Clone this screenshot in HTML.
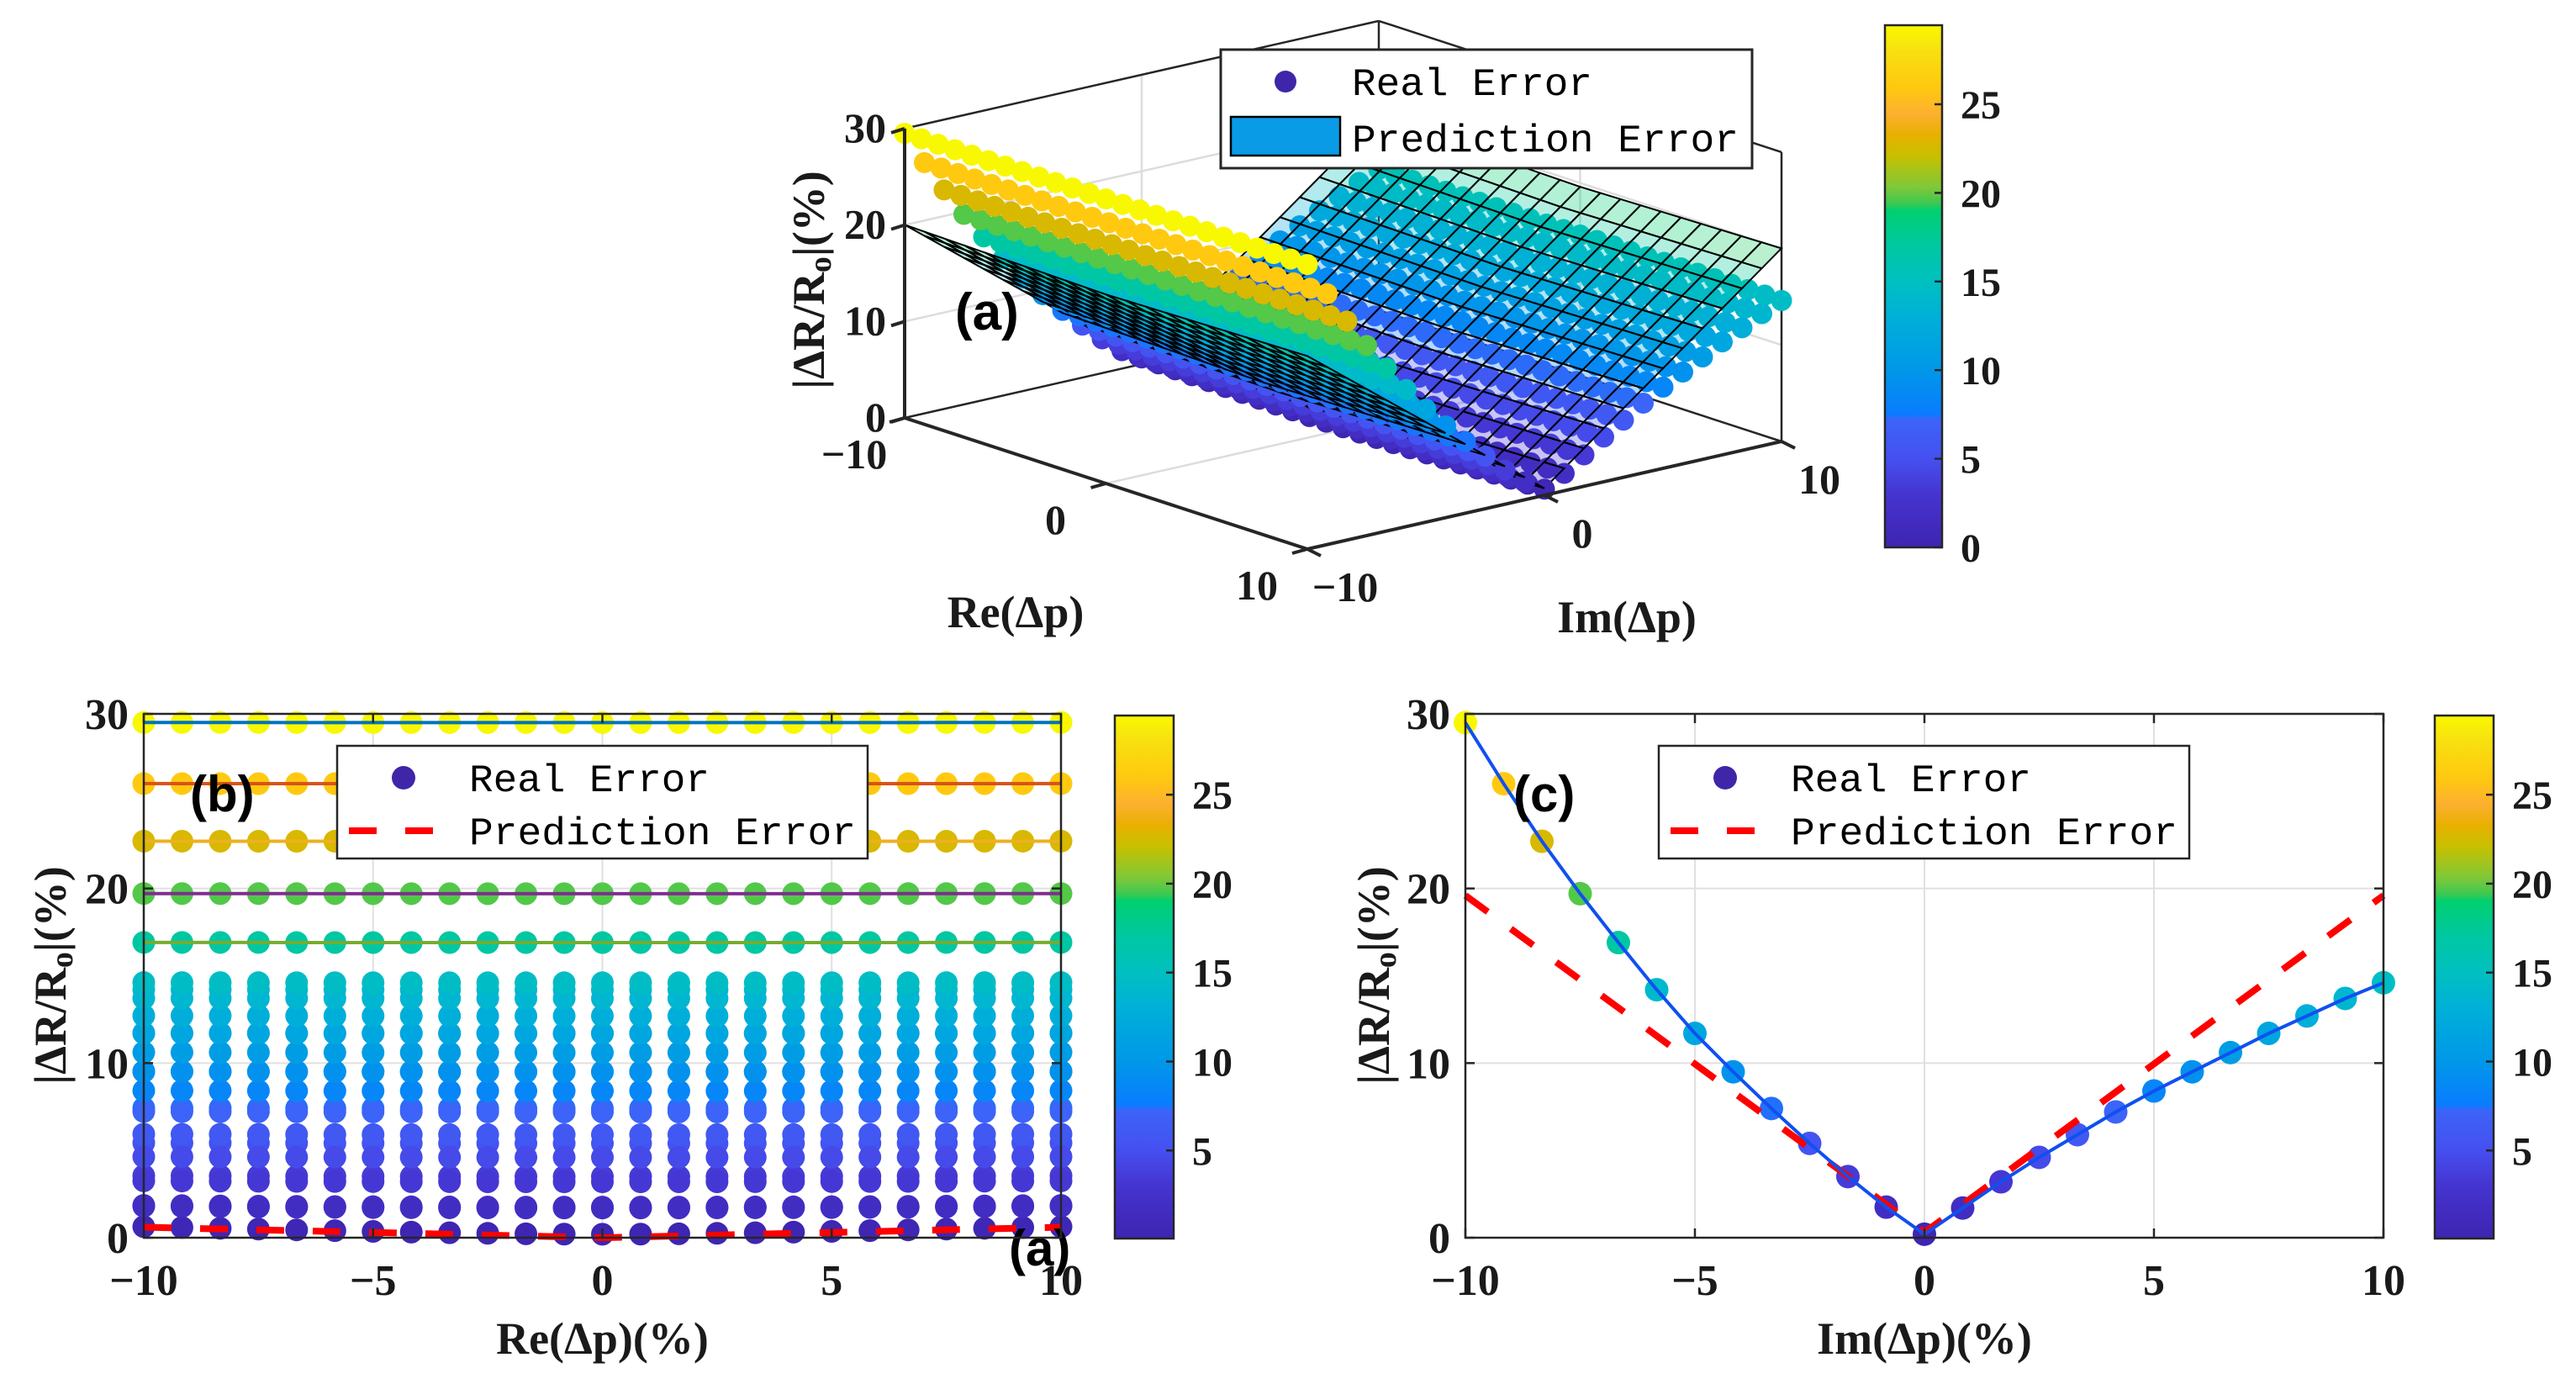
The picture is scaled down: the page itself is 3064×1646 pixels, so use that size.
<!DOCTYPE html>
<html><head><meta charset="utf-8">
<style>
html,body{margin:0;padding:0;background:#fff;}
svg{display:block;}
text{font-family:"Liberation Serif",serif;font-weight:bold;fill:#1a1a1a;}
.mono{font-family:"Liberation Mono",monospace;font-weight:normal;fill:#000;}
.arial{font-family:"Liberation Sans",sans-serif;font-weight:bold;fill:#000;}
</style></head>
<body>
<svg id="fig" width="3064" height="1646" viewBox="0 0 3064 1646" xmlns="http://www.w3.org/2000/svg">
<defs>
<linearGradient id="cbgrad" x1="0" y1="1" x2="0" y2="0">
<stop offset="0" stop-color="#3e24b0"/>
<stop offset="0.1" stop-color="#4534d0"/>
<stop offset="0.17" stop-color="#4550f0"/>
<stop offset="0.245" stop-color="#3c64f8"/>
<stop offset="0.255" stop-color="#0a7cff"/>
<stop offset="0.34" stop-color="#0098e8"/>
<stop offset="0.44" stop-color="#00b0d8"/>
<stop offset="0.51" stop-color="#00c0c0"/>
<stop offset="0.58" stop-color="#00c8a0"/>
<stop offset="0.645" stop-color="#00d070"/>
<stop offset="0.66" stop-color="#40c850"/>
<stop offset="0.69" stop-color="#80c838"/>
<stop offset="0.75" stop-color="#c8c000"/>
<stop offset="0.79" stop-color="#e8b000"/>
<stop offset="0.83" stop-color="#fcb030"/>
<stop offset="0.88" stop-color="#ffc810"/>
<stop offset="0.95" stop-color="#f8e010"/>
<stop offset="1" stop-color="#f8f800"/>
</linearGradient>
</defs>
<g id="pa"></g>
<g id="pb"></g>
<g id="pc"></g>
</svg>
<script>
// ---------- data ----------
const gridVals = [-10,-9.167,-8.333,-7.5,-6.667,-5.833,-5,-4.167,-3.333,-2.5,-1.667,-0.833,0,0.833,1.667,2.5,3.333,4.167,5,5.833,6.667,7.5,8.333,9.167,10];
const realByIm = [29.5,26.0,22.7,19.7,16.9,14.2,11.7,9.5,7.4,5.4,3.5,1.75,0.2,1.7,3.2,4.6,5.9,7.2,8.4,9.5,10.6,11.7,12.7,13.7,14.6];
const realReOffset = [0.6,0.55,0.5,0.45,0.4,0.35,0.3,0.25,0.2,0.15,0.1,0.05,0,0.05,0.1,0.15,0.2,0.25,0.3,0.35,0.4,0.45,0.5,0.55,0.6];
const predImSlope = [1.93,1.93];
const predOffset = [0.3];
const predReSlope = [0.06];
const xTicks = [-10,-5,0,5,10];
const yTicks = [0,10,20,30];
const cbTicks = [5,10,15,20,25];
const cbTicksA = [0,5,10,15,20,25];
const lineColors = ['#0072bd','#d95319','#edb120','#7e2f8e','#77ac30','#4dbeee','#a2142f'];

const NS='http://www.w3.org/2000/svg';
function mk(parent,tag,attrs,txt){const e=document.createElementNS(NS,tag);for(const k in attrs)e.setAttribute(k,attrs[k]);if(txt!==undefined)e.textContent=txt;parent.appendChild(e);return e;}

const cmStops=[[0,[62,36,176]],[0.1,[69,52,208]],[0.17,[69,80,240]],[0.245,[60,100,248]],[0.255,[10,124,255]],[0.34,[0,152,232]],[0.44,[0,176,216]],[0.51,[0,192,192]],[0.58,[0,200,160]],[0.645,[0,208,112]],[0.66,[64,200,80]],[0.69,[128,200,56]],[0.75,[200,192,0]],[0.79,[232,176,0]],[0.83,[252,176,48]],[0.88,[255,200,16]],[0.95,[248,224,16]],[1,[248,248,0]]];
function cmap(v,lo,hi){let t=(v-lo)/(hi-lo);t=Math.max(0,Math.min(1,t));for(let i=1;i<cmStops.length;i++){if(t<=cmStops[i][0]){const a=cmStops[i-1],b=cmStops[i];const f=(t-a[0])/(b[0]-a[0]||1);const c=a[1].map((x,j)=>Math.round(x+(b[1][j]-x)*f));return `rgb(${c[0]},${c[1]},${c[2]})`;}}return 'rgb(248,248,0)';}
function realZ(i,j){const a=realByIm[j],b=realReOffset[i];return Math.sqrt(a*a+b*b);}
function predZ(re,im){return (im<0?predImSlope[0]:predImSlope[1])*Math.abs(im)+predOffset[0]+predReSlope[0]*Math.abs(re)*0.7;}

function panel2D(g,opt){
  const L=opt.L,R=opt.R,T=849,B=1472;
  const xs=v=>L+(v+10)/20*(R-L), ys=v=>B-v/30*(B-T);
  xTicks.slice(1,4).forEach(t=>{const e=mk(g,'line',{x1:xs(t),x2:xs(t),y1:T,y2:B,stroke:'#e0e0e0','stroke-width':2});});
  yTicks.slice(1,3).forEach(t=>{const e=mk(g,'line',{x1:L,x2:R,y1:ys(t),y2:ys(t),stroke:'#e0e0e0','stroke-width':2});});
  opt.draw(g,xs,ys);
  const bx=mk(g,'rect',{x:L,y:T,width:R-L,height:B-T,fill:'none',stroke:'#262626','stroke-width':2.5});
  
  xTicks.forEach(t=>{
    mk(g,'line',{x1:xs(t),x2:xs(t),y1:B,y2:B-11,stroke:'#262626','stroke-width':2.5});
    mk(g,'line',{x1:xs(t),x2:xs(t),y1:T,y2:T+11,stroke:'#262626','stroke-width':2.5});
    const lb=mk(g,'text',{x:xs(t),y:1540,'font-size':52,'text-anchor':'middle'},(t<0?'\u2212':'')+Math.abs(t));
    
  });
  yTicks.forEach(t=>{
    mk(g,'line',{x1:L,x2:L+11,y1:ys(t),y2:ys(t),stroke:'#262626','stroke-width':2.5});
    mk(g,'line',{x1:R,x2:R-11,y1:ys(t),y2:ys(t),stroke:'#262626','stroke-width':2.5});
    const lb=mk(g,'text',{x:L-18,y:ys(t)+18,'font-size':52,'text-anchor':'end'},String(t));
    
  });
  const xl=mk(g,'text',{x:(L+R)/2,y:1610,'font-size':54,'text-anchor':'middle'},opt.xlabel);
  
  const yl=mk(g,'text',{x:0,y:0,'font-size':54,'text-anchor':'middle',transform:`translate(${opt.ylx},1160) rotate(-90)`});
  
  yl.innerHTML='|\u0394R/R<tspan font-size="38" dy="8">o</tspan><tspan dy="-8">|(%)</tspan>';
  const cx=opt.cbx,cw=70,cT=851,cB=1473,lo=0.05,hi=29.45;
  const cb=mk(g,'rect',{x:cx,y:cT,width:cw,height:cB-cT,fill:'url(#cbgrad)',stroke:'#262626','stroke-width':2.5});
  
  cbTicks.forEach(t=>{const y=cB-(t-lo)/(hi-lo)*(cB-cT);
    mk(g,'line',{x1:cx+cw,x2:cx+cw-9,y1:y,y2:y,stroke:'#262626','stroke-width':2.5});
    const lb=mk(g,'text',{x:cx+cw+22,y:y+17,'font-size':48},String(t));
    });
  const lx=opt.legX;
  const lg=mk(g,'g',{});
  mk(lg,'rect',{x:lx,y:887,width:631,height:134,fill:'#fff',stroke:'#262626','stroke-width':2.5});
  const d=mk(lg,'circle',{cx:lx+79,cy:925,r:14,fill:'#3f26a8'});
  const t1=mk(lg,'text',{x:lx+157,y:941,'font-size':46,class:'mono',textLength:286,lengthAdjust:'spacingAndGlyphs'},'Real Error');
  
  const ds=mk(lg,'line',{x1:lx+14,x2:lx+114,y1:988,y2:988,stroke:'#ff0000','stroke-width':8,'stroke-dasharray':'33 34'});
  
  const t2=mk(lg,'text',{x:lx+157,y:1004,'font-size':46,class:'mono',textLength:460,lengthAdjust:'spacingAndGlyphs'},'Prediction Error');
  
}

panel2D(document.getElementById('pb'),{L:171,R:1262,cbx:1326,legX:401,xlabel:'Re(\u0394p)(%)',ylx:78,
 draw:(g,xs,ys)=>{
  const rowLine=j=>{const pts=gridVals.map((re,i)=>xs(re)+','+ys(realZ(i,j))).join(' ');
    const p=mk(g,'polyline',{points:pts,fill:'none',stroke:lineColors[j%7],'stroke-width':4});
    };
  for(let j=0;j<gridVals.length;j++){for(let i=0;i<gridVals.length;i++){
    const z=realZ(i,j);const c=mk(g,'circle',{cx:xs(gridVals[i]),cy:ys(z),r:13.5,fill:cmap(z,0.05,29.45)});
    }}
  for(let j=0;j<5;j++) rowLine(j);
  const pp=gridVals.map((re,i)=>xs(re)+','+ys(realReOffset[i])).join(' ');
  const pr=mk(g,'polyline',{points:pp,fill:'none',stroke:'#ff0000','stroke-width':8,'stroke-dasharray':'33 34'});
  
  const lb=mk(g,'text',{x:226,y:965,'font-size':60,class:'arial'},'(b)');
  const la=mk(g,'text',{x:1200,y:1505,'font-size':60,class:'arial'},'(a)');
 }});

panel2D(document.getElementById('pc'),{L:1743,R:2835,cbx:2896,legX:1973,xlabel:'Im(\u0394p)(%)',ylx:1652,
 draw:(g,xs,ys)=>{
  gridVals.forEach((im,j)=>{const z=realByIm[j];const c=mk(g,'circle',{cx:xs(im),cy:ys(z),r:14,fill:cmap(z,0.05,29.45)});
    });
  const pp=[-10,0,10].map(im=>xs(im)+','+ys(predZ(0,im))).join(' ');
  const pr=mk(g,'polyline',{points:pp,fill:'none',stroke:'#ff0000','stroke-width':8,'stroke-dasharray':'33 34'});
  
  const bp=gridVals.map((im,j)=>xs(im)+','+ys(realByIm[j])).join(' ');
  const bl=mk(g,'polyline',{points:bp,fill:'none',stroke:'#1050f0','stroke-width':4});
  
  const lc=mk(g,'text',{x:1800,y:965,'font-size':60,class:'arial'},'(c)');
 }});

(function(){
  const g=document.getElementById('pa');
  const P=(re,im,z)=>[1076+(re+10)*23.95+(im+10)*28.2, 497+(re+10)*7.8-(im+10)*6.4-z*11.47];
  const ln=(a,b,st,w,name)=>{const p=P(...a),q=P(...b);const e=mk(g,'line',{x1:p[0],y1:p[1],x2:q[0],y2:q[1],stroke:st,'stroke-width':w});};
  [10,20].forEach(z=>{ln([-10,-10,z],[-10,10,z],'#dcdcdc',2.5,'z-gridline');ln([-10,10,z],[10,10,z],'#dcdcdc',2.5,'z-gridline');});
  ln([-10,0,0],[-10,0,30],'#dcdcdc',2.5,'im-gridline');ln([-10,0,0],[10,0,0],'#dcdcdc',2.5,'im-gridline');
  ln([0,10,0],[0,10,30],'#dcdcdc',2.5,'re-gridline');ln([0,-10,0],[0,10,0],'#dcdcdc',2.5,'re-gridline');
  ln([-10,-10,0],[-10,10,0],'#262626',2.5,'box-edge');ln([-10,10,0],[10,10,0],'#262626',2.5,'box-edge');
  ln([-10,10,0],[-10,10,30],'#262626',2.5,'box-edge');ln([10,10,0],[10,10,30],'#262626',2.5,'box-edge');
  ln([-10,-10,30],[-10,10,30],'#262626',2.5,'box-edge');ln([-10,10,30],[10,10,30],'#262626',2.5,'box-edge');
  const items=[];
  gridVals.forEach((re,i)=>gridVals.forEach((im,j)=>{const z=realZ(i,j);items.push({d:(re-im)+0.45*z,t:'dot',re,im,z});}));
  const nR=20,nI=24;
  for(let a=0;a<nR;a++)for(let b=0;b<nI;b++){
    const r0=-10+20*a/nR,r1=-10+20*(a+1)/nR,i0=-10+20*b/nI,i1=-10+20*(b+1)/nI;
    const zc=predZ((r0+r1)/2,(i0+i1)/2);
    items.push({d:((r0+r1)/2-(i0+i1)/2)+0.45*zc+0.3,t:'quad',r0,r1,i0,i1,zc});}
  items.sort((a,b)=>a.d-b.d);
  items.forEach(it=>{
    if(it.t==='dot'){const p=P(it.re,it.im,it.z);const c=mk(g,'circle',{cx:p[0],cy:p[1],r:12.5,fill:cmap(it.z,0,29.46)});
      }
    else{const pts=[[it.r0,it.i0],[it.r1,it.i0],[it.r1,it.i1],[it.r0,it.i1]].map(([r,i])=>P(r,i,predZ(r,i)).join(',')).join(' ');
      const q=mk(g,'polygon',{points:pts,fill:cmap(it.zc,0,29.46),'fill-opacity':0.3,stroke:'#000','stroke-width':2});
      }
  });
  ln([-10,-10,0],[-10,-10,30],'#262626',4,'z-axis');ln([-10,-10,0],[10,-10,0],'#262626',4,'re-axis');ln([10,-10,0],[10,10,0],'#262626',4,'im-axis');
  [0,10,20,30].forEach(z=>{const p=P(-10,-10,z);mk(g,'line',{x1:p[0]-16,y1:p[1]+5,x2:p[0],y2:p[1],stroke:'#262626','stroke-width':4});
    const lb=mk(g,'text',{x:p[0]-22,y:p[1]+16,'font-size':50,'text-anchor':'end'},String(z));});
  [-10,0,10].forEach(re=>{const p=P(re,-10,0);mk(g,'line',{x1:p[0],y1:p[1],x2:p[0]-18,y2:p[1]+5,stroke:'#262626','stroke-width':4});
    const lb=mk(g,'text',{x:p[0]-60,y:p[1]+60,'font-size':50,'text-anchor':'middle'},(re<0?'\u2212':'')+Math.abs(re));});
  [-10,0,10].forEach(im=>{const p=P(10,im,0);mk(g,'line',{x1:p[0],y1:p[1],x2:p[0]+16,y2:p[1]+8,stroke:'#262626','stroke-width':4});
    const lb=mk(g,'text',{x:p[0]+45,y:p[1]+62,'font-size':50,'text-anchor':'middle'},(im<0?'\u2212':'')+Math.abs(im));});
  const xl=mk(g,'text',{x:1208,y:746,'font-size':54,'text-anchor':'middle'},'Re(\u0394p)');
  const il=mk(g,'text',{x:1935,y:752,'font-size':54,'text-anchor':'middle'},'Im(\u0394p)');
  const zl=mk(g,'text',{x:0,y:0,'font-size':54,'text-anchor':'middle',transform:'translate(980,333) rotate(-90)'});
  
  zl.innerHTML='|\u0394R/R<tspan font-size="38" dy="8">o</tspan><tspan dy="-8">|(%)</tspan>';
  const la=mk(g,'text',{x:1136,y:392,'font-size':62,class:'arial'},'(a)');
  const lg=mk(g,'g',{});
  mk(lg,'rect',{x:1452,y:59,width:632,height:141,fill:'#fff',stroke:'#262626','stroke-width':3});
  const d=mk(lg,'circle',{cx:1529,cy:97,r:13,fill:'#3f26a8'});
  const t1=mk(lg,'text',{x:1608,y:113,'font-size':46,class:'mono',textLength:286,lengthAdjust:'spacingAndGlyphs'},'Real Error');
  const rc=mk(lg,'rect',{x:1464,y:139,width:130,height:46,fill:'#0a9be6',stroke:'#000','stroke-width':2.5});
  const t2=mk(lg,'text',{x:1608,y:180,'font-size':46,class:'mono',textLength:460,lengthAdjust:'spacingAndGlyphs'},'Prediction Error');
  const cx=2242,cw=68,cT=30,cB=651,hi=29.46;
  const cb=mk(g,'rect',{x:cx,y:cT,width:cw,height:cB-cT,fill:'url(#cbgrad)',stroke:'#262626','stroke-width':2.5});
  cbTicksA.forEach(t=>{const y=cB-t/hi*(cB-cT);mk(g,'line',{x1:cx+cw,x2:cx+cw-9,y1:y,y2:y,stroke:'#262626','stroke-width':2.5});
    const lb=mk(g,'text',{x:cx+cw+22,y:y+17,'font-size':48},String(t));});
})();
</script>
</body></html>
